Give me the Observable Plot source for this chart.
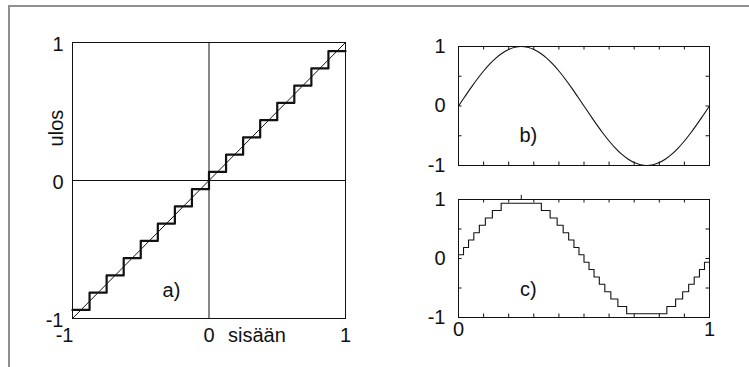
<!DOCTYPE html>
<html>
<head>
<meta charset="utf-8">
<script src="https://cdn.jsdelivr.net/npm/d3@7"></script>
<script src="https://cdn.jsdelivr.net/npm/@observablehq/plot@0.6"></script>
<style>
  body { margin: 0; background: #fff; }
  #fig { position: relative; width: 749px; height: 367px; overflow: hidden; background: #fff; }
  #border { position: absolute; left: 8px; top: 5px; width: 760px; height: 380px;
            border-left: 2px solid #8f8f8f; border-top: 2px solid #8f8f8f; }
  #fig svg { position: absolute; }
</style>
</head>
<body>
<div id="fig"><div id="border"></div></div>
<script>
// a) uniform quantizer characteristic, step 1/8 (input edges and output levels)
const stairX = [-1, -0.875, -0.75, -0.625, -0.5, -0.375, -0.25, -0.125, 0,
                0.125, 0.25, 0.375, 0.5, 0.625, 0.75, 0.875, 1];
const stairY = [-0.9375, -0.8125, -0.6875, -0.5625, -0.4375, -0.3125, -0.1875, -0.0625,
                0.0625, 0.1875, 0.3125, 0.4375, 0.5625, 0.6875, 0.8125, 0.9375, 0.9375];
const diagX = [-1, 1];
const diagY = [-1, 1];

// b) one period of the input sine
const sineX = [0, 0.025, 0.05, 0.075, 0.1, 0.125, 0.15, 0.175, 0.2, 0.225, 0.25,
               0.275, 0.3, 0.325, 0.35, 0.375, 0.4, 0.425, 0.45, 0.475, 0.5,
               0.525, 0.55, 0.575, 0.6, 0.625, 0.65, 0.675, 0.7, 0.725, 0.75,
               0.775, 0.8, 0.825, 0.85, 0.875, 0.9, 0.925, 0.95, 0.975, 1];
const sineY = [0, 0.156, 0.309, 0.454, 0.588, 0.707, 0.809, 0.891, 0.951, 0.988, 1,
               0.988, 0.951, 0.891, 0.809, 0.707, 0.588, 0.454, 0.309, 0.156, 0,
               -0.156, -0.309, -0.454, -0.588, -0.707, -0.809, -0.891, -0.951, -0.988, -1,
               -0.988, -0.951, -0.891, -0.809, -0.707, -0.588, -0.454, -0.309, -0.156, 0];

// c) quantized sine: where each output level begins, and the level
const quantX = [0, 0.020, 0.040, 0.061, 0.083, 0.107, 0.135, 0.170,
                0.330, 0.365, 0.393, 0.417, 0.439, 0.460, 0.480,
                0.500, 0.520, 0.540, 0.561, 0.583, 0.607, 0.635, 0.670,
                0.830, 0.865, 0.893, 0.917, 0.939, 0.960, 0.980, 1];
const quantY = [0.0625, 0.1875, 0.3125, 0.4375, 0.5625, 0.6875, 0.8125, 0.9375,
                0.8125, 0.6875, 0.5625, 0.4375, 0.3125, 0.1875, 0.0625,
                -0.0625, -0.1875, -0.3125, -0.4375, -0.5625, -0.6875, -0.8125, -0.9375,
                -0.8125, -0.6875, -0.5625, -0.4375, -0.3125, -0.1875, -0.0625, -0.0625];

// tick values and labels
const aTicks = [-1, 0, 1];
const rightYTicks = [-1, 0, 1];
const rightXLabels = [0, 1];
const minorX = [0.1, 0.2, 0.3, 0.4, 0.5, 0.6, 0.7, 0.8, 0.9];
const minorY = [-0.5, 0, 0.5];
const xName = "sisään";
const yName = "ulos";
const panelNames = ["a)", "b)", "c)"];

const font = "'Liberation Sans', Arial, Helvetica, sans-serif";
const ink = "#111";
const fmt = d => String(d).replace("\u2212", "-");

const stair = stairX.map((x, i) => ({x, y: stairY[i]}));
const diag = diagX.map((x, i) => ({x, y: diagY[i]}));
const sine = sineX.map((x, i) => ({x, y: sineY[i]}));
const quant = quantX.map((x, i) => ({x, y: quantY[i]}));

const fig = document.getElementById("fig");
function place(svg, left, top) {
  svg.style.left = left + "px";
  svg.style.top = top + "px";
  fig.appendChild(svg);
}

// ---- panel a: quantizer input/output characteristic
const plotA = Plot.plot({
  width: 375, height: 367,
  marginLeft: 72, marginRight: 30, marginTop: 42, marginBottom: 49,
  x: {domain: [-1, 1], axis: null},
  y: {domain: [-1, 1], axis: null},
  style: {fontFamily: font, background: "transparent", color: ink},
  marks: [
    Plot.ruleY([0], {stroke: ink, strokeWidth: 1}),
    Plot.ruleX([0], {stroke: ink, strokeWidth: 1}),
    Plot.line(diag, {x: "x", y: "y", stroke: ink, strokeWidth: 1}),
    Plot.line(stair, {x: "x", y: "y", curve: "step-after", stroke: ink, strokeWidth: 2.2}),
    Plot.frame({stroke: ink, strokeWidth: 1}),
    Plot.text(aTicks, {x: -1, y: d => d, text: fmt, textAnchor: "end", dx: -9, dy: 2,
                       fontSize: 20, fill: ink}),
    Plot.text(aTicks.filter(d => d < 0), {x: d => d, y: -1, text: fmt, textAnchor: "end",
                       dx: 1, dy: 17, fontSize: 20, fill: ink}),
    Plot.text(aTicks.filter(d => d >= 0), {x: d => d, y: -1, text: fmt,
                       dy: 17, fontSize: 20, fill: ink}),
    Plot.text([xName], {x: 0, y: -1, text: d => d, textAnchor: "start", dx: 19, dy: 17,
                       fontSize: 20, fill: ink}),
    Plot.text([yName], {x: -1, y: 0.38, text: d => d, rotate: -90, dx: -16,
                       fontSize: 20, fill: ink}),
    Plot.text([panelNames[0]], {x: -0.275, y: -0.8, text: d => d, fontSize: 20, fill: ink})
  ]
});
place(plotA, 0, 0);

// shared frame, inner ticks and labels for the two right-hand panels
function rightPanel({height, marginTop, marginBottom, series, curve, label, labelY, xLabels, extra = []}) {
  const boxH = height - marginTop - marginBottom;
  const boxW = 369 - 78 - 40;
  const ty = 3.5 / boxH * 2;   // tick length in y units
  const tx = 3.5 / boxW;       // tick length in x units
  return Plot.plot({
    width: 369, height,
    marginLeft: 78, marginRight: 40, marginTop, marginBottom,
    x: {domain: [0, 1], axis: null},
    y: {domain: [-1, 1], axis: null},
    style: {fontFamily: font, background: "transparent", color: ink},
    marks: [
      Plot.ruleX(minorX, {x: d => d, y1: -1, y2: -1 + ty, stroke: ink, strokeWidth: 1}),
      Plot.ruleX(minorX, {x: d => d, y1: 1, y2: 1 - ty, stroke: ink, strokeWidth: 1}),
      Plot.ruleY(minorY, {y: d => d, x1: 0, x2: tx, stroke: ink, strokeWidth: 1}),
      Plot.ruleY(minorY, {y: d => d, x1: 1, x2: 1 - tx, stroke: ink, strokeWidth: 1}),
      Plot.line(series, {x: "x", y: "y", curve, stroke: ink, strokeWidth: 1.1}),
      ...extra,
      Plot.frame({stroke: ink, strokeWidth: 1}),
      Plot.text(rightYTicks, {x: 0, y: d => d, text: fmt, textAnchor: "end", dx: -13,
                              fontSize: 20, fill: ink}),
      ...(xLabels ? [Plot.text(xLabels, {x: d => d, y: -1, text: fmt, dy: 12,
                              fontSize: 20, fill: ink})] : []),
      Plot.text([label], {x: 0.278, y: labelY, text: d => d, fontSize: 20, fill: ink})
    ]
  });
}

// ---- panel b: input sine
const plotB = rightPanel({
  height: 183, marginTop: 46, marginBottom: 18,
  series: sine, curve: "catmull-rom", label: panelNames[1], labelY: -0.5
});
place(plotB, 380, 0);

// ---- panel c: quantized sine
const plotC = rightPanel({
  height: 184, marginTop: 16, marginBottom: 50,
  series: quant, curve: "step-after", label: panelNames[2], labelY: -0.52,
  xLabels: rightXLabels,
  extra: [Plot.ruleX([0.25], {x: d => d, y1: 1, y2: 1.07, stroke: ink, strokeWidth: 1})]
});
place(plotC, 380, 183);
</script>
</body>
</html>
